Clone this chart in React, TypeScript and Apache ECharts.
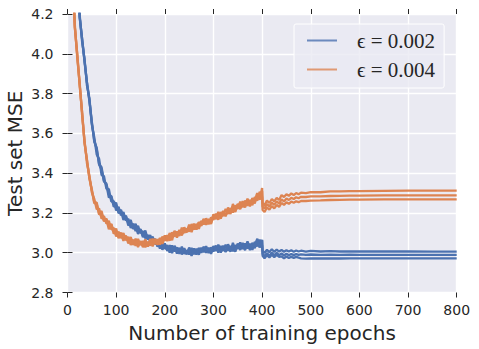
import React, { useEffect, useRef } from "react";
import * as echarts from "echarts";

const epochs = [
  10, 15, 20, 25, 30, 35, 40, 45, 50, 55,
  60, 65, 70, 75, 80, 85, 90, 95, 100, 105,
  110, 115, 120, 125, 130, 135, 140, 145, 150, 155,
  160, 165, 170, 175, 180, 185, 190, 195, 200, 205,
  210, 215, 220, 225, 230, 235, 240, 245, 250, 255,
  260, 265, 270, 275, 280, 285, 290, 295, 300, 305,
  310, 315, 320, 325, 330, 335, 340, 345, 350, 355,
  360, 365, 370, 375, 380, 385, 390, 395, 400,
  401, 405, 410, 415, 420, 425, 430, 435, 440, 445,
  450, 455, 460, 465, 470, 475, 480, 490, 500, 520,
  540, 560, 580, 600, 650, 700, 750, 800,
];

const blueRun1 = [
  5.110, 4.742, 4.462, 4.185, 4.078, 3.960, 3.856, 3.766, 3.659, 3.558,
  3.528, 3.445, 3.430, 3.360, 3.342, 3.278, 3.285, 3.242, 3.251, 3.198,
  3.210, 3.165, 3.186, 3.149, 3.164, 3.121, 3.133, 3.094, 3.118, 3.086,
  3.112, 3.068, 3.077, 3.042, 3.070, 3.030, 3.051, 3.030, 3.047, 3.009,
  3.029, 2.998, 3.035, 3.005, 3.024, 2.992, 3.011, 2.992, 3.026, 2.997,
  3.021, 2.991, 3.022, 3.003, 3.028, 3.000, 3.025, 2.994, 3.029, 3.009,
  3.040, 3.011, 3.035, 3.003, 3.033, 3.005, 3.050, 3.013, 3.043, 3.014,
  3.049, 3.020, 3.057, 3.021, 3.046, 3.022, 3.070, 3.028, 3.065,
  3.012, 2.998, 3.015, 3.002, 3.018, 3.004, 3.016, 3.006, 3.014, 3.005,
  3.013, 3.006, 3.012, 3.005, 3.011, 3.006, 3.010, 3.006, 3.009, 3.006,
  3.008, 3.006, 3.007, 3.006, 3.006, 3.006, 3.005, 3.005,
];

const blueRun2 = [
  5.094, 4.759, 4.439, 4.197, 4.061, 3.975, 3.840, 3.778, 3.644, 3.581,
  3.494, 3.472, 3.391, 3.384, 3.321, 3.320, 3.257, 3.260, 3.212, 3.231,
  3.188, 3.204, 3.162, 3.170, 3.124, 3.146, 3.109, 3.135, 3.098, 3.109,
  3.072, 3.090, 3.055, 3.081, 3.043, 3.058, 3.021, 3.051, 3.020, 3.038,
  3.000, 3.037, 3.006, 3.027, 2.994, 3.031, 2.994, 3.012, 2.991, 3.024,
  2.992, 3.020, 2.990, 3.025, 3.002, 3.033, 2.998, 3.027, 3.006, 3.036,
  3.001, 3.034, 3.009, 3.040, 3.010, 3.034, 3.007, 3.038, 3.020, 3.052,
  3.018, 3.047, 3.021, 3.045, 3.014, 3.055, 3.032, 3.066, 3.035,
  2.995, 2.982, 2.998, 2.985, 3.000, 2.987, 2.999, 2.988, 2.996, 2.986,
  2.995, 2.987, 2.994, 2.988, 2.993, 2.989, 2.992, 2.989, 2.991, 2.989,
  2.990, 2.989, 2.990, 2.989, 2.989, 2.989, 2.989, 2.989,
];

const blueRun3 = [
  5.104, 4.747, 4.456, 4.182, 4.075, 3.966, 3.857, 3.764, 3.653, 3.565,
  3.521, 3.442, 3.418, 3.358, 3.347, 3.293, 3.283, 3.231, 3.239, 3.204,
  3.216, 3.177, 3.183, 3.137, 3.151, 3.120, 3.145, 3.105, 3.117, 3.078,
  3.098, 3.066, 3.089, 3.051, 3.066, 3.034, 3.054, 3.015, 3.037, 3.013,
  3.038, 3.014, 3.030, 2.996, 3.020, 2.997, 3.022, 2.997, 3.017, 2.984,
  3.014, 2.994, 3.024, 3.000, 3.030, 3.003, 3.022, 3.000, 3.033, 3.014,
  3.033, 3.001, 3.030, 3.006, 3.042, 3.016, 3.037, 3.005, 3.046, 3.019,
  3.038, 3.013, 3.048, 3.013, 3.050, 3.030, 3.068, 3.026, 3.063,
  2.985, 2.972, 2.988, 2.976, 2.990, 2.978, 2.989, 2.979, 2.982, 2.972,
  2.981, 2.973, 2.980, 2.974, 2.979, 2.975, 2.972, 2.970, 2.972, 2.971,
  2.972, 2.971, 2.972, 2.972, 2.972, 2.972, 2.972, 2.972,
];

const orangeRun1 = [
  4.454, 4.137, 3.996, 3.842, 3.705, 3.556, 3.467, 3.374, 3.313, 3.255,
  3.246, 3.192, 3.198, 3.158, 3.172, 3.133, 3.143, 3.096, 3.109, 3.079,
  3.101, 3.072, 3.083, 3.047, 3.066, 3.040, 3.070, 3.040, 3.057, 3.028,
  3.053, 3.031, 3.069, 3.041, 3.066, 3.044, 3.074, 3.045, 3.077, 3.063,
  3.098, 3.079, 3.105, 3.076, 3.110, 3.092, 3.127, 3.107, 3.132, 3.104,
  3.139, 3.119, 3.154, 3.135, 3.170, 3.143, 3.167, 3.150, 3.193, 3.174,
  3.198, 3.171, 3.205, 3.186, 3.227, 3.206, 3.232, 3.205, 3.246, 3.224,
  3.248, 3.228, 3.263, 3.233, 3.275, 3.255, 3.298, 3.266, 3.325,
  3.250, 3.238, 3.262, 3.250, 3.270, 3.258, 3.276, 3.265, 3.290, 3.280,
  3.294, 3.286, 3.298, 3.290, 3.300, 3.294, 3.302, 3.300, 3.305, 3.304,
  3.308, 3.308, 3.310, 3.310, 3.311, 3.312, 3.312, 3.312,
];

const orangeRun2 = [
  4.460, 4.132, 4.002, 3.845, 3.708, 3.550, 3.466, 3.376, 3.319, 3.248,
  3.253, 3.195, 3.210, 3.160, 3.167, 3.118, 3.145, 3.107, 3.121, 3.073,
  3.095, 3.060, 3.086, 3.059, 3.079, 3.041, 3.058, 3.029, 3.058, 3.036,
  3.067, 3.033, 3.057, 3.032, 3.070, 3.040, 3.071, 3.060, 3.087, 3.059,
  3.089, 3.063, 3.110, 3.085, 3.114, 3.087, 3.116, 3.102, 3.141, 3.117,
  3.146, 3.116, 3.152, 3.138, 3.168, 3.140, 3.170, 3.144, 3.189, 3.169,
  3.205, 3.181, 3.210, 3.183, 3.218, 3.195, 3.245, 3.213, 3.243, 3.219,
  3.259, 3.235, 3.272, 3.241, 3.271, 3.247, 3.300, 3.268, 3.310,
  3.232, 3.222, 3.245, 3.233, 3.252, 3.240, 3.258, 3.247, 3.268, 3.258,
  3.272, 3.265, 3.276, 3.270, 3.279, 3.274, 3.281, 3.280, 3.283, 3.283,
  3.285, 3.286, 3.287, 3.287, 3.288, 3.288, 3.288, 3.288,
];

const orangeRun3 = [
  4.444, 4.149, 3.979, 3.857, 3.691, 3.565, 3.450, 3.388, 3.304, 3.271,
  3.219, 3.222, 3.171, 3.184, 3.146, 3.160, 3.117, 3.125, 3.082, 3.106,
  3.073, 3.099, 3.062, 3.080, 3.039, 3.066, 3.034, 3.070, 3.038, 3.059,
  3.027, 3.055, 3.035, 3.071, 3.043, 3.068, 3.041, 3.081, 3.060, 3.088,
  3.060, 3.102, 3.081, 3.107, 3.084, 3.126, 3.099, 3.122, 3.106, 3.144,
  3.117, 3.145, 3.120, 3.160, 3.142, 3.173, 3.143, 3.177, 3.166, 3.196,
  3.166, 3.204, 3.184, 3.220, 3.195, 3.224, 3.202, 3.238, 3.220, 3.257,
  3.228, 3.262, 3.236, 3.265, 3.239, 3.280, 3.262, 3.306, 3.280,
  3.215, 3.205, 3.228, 3.216, 3.235, 3.223, 3.240, 3.230, 3.250, 3.240,
  3.254, 3.246, 3.257, 3.251, 3.259, 3.254, 3.260, 3.260, 3.262, 3.263,
  3.265, 3.266, 3.267, 3.267, 3.268, 3.268, 3.268, 3.268,
];

const legendLabels = ["ϵ = 0.002", "ϵ = 0.004"];
const xAxisTitle = "Number of training epochs";
const yAxisTitle = "Test set MSE";
const xMin = 0;
const xMax = 800;
const xStep = 100;
const yMin = 2.8;
const yMax = 4.2;
const yStep = 0.2;

const BLUE = "#4C72B0";
const ORANGE = "#DD8452";
const TEXT = "#262626";
const FONT = "DejaVu Sans";

export default function App() {
  const ref = useRef<HTMLDivElement>(null);

  useEffect(() => {
    if (!ref.current) return;
    const chart = echarts.init(ref.current, null, { renderer: "svg" });
    const toPairs = (run: number[]) => epochs.map((e, i) => [e, run[i]]);
    const groups = [
      { name: legendLabels[0], color: BLUE, runs: [blueRun1, blueRun2, blueRun3] },
      { name: legendLabels[1], color: ORANGE, runs: [orangeRun1, orangeRun2, orangeRun3] },
    ];
    const series: any[] = [];
    groups.forEach((g) => {
      g.runs.forEach((r) => {
        series.push({
          type: "line",
          name: g.name,
          data: toPairs(r),
          symbol: "none",
          showSymbol: false,
          clip: true,
          color: g.color,
          lineStyle: { color: g.color, width: 2.3 },
          xAxisIndex: 0,
          yAxisIndex: 0,
        });
      });
    });

    const tick = { show: true, length: 5, lineStyle: { color: TEXT, width: 1 } };

    chart.setOption({
      animation: false,
      backgroundColor: "#ffffff",
      grid: {
        left: 67.5,
        right: 22.3,
        top: 14,
        bottom: 56.5,
        show: true,
        backgroundColor: "#EAEAF2",
        borderWidth: 0,
        containLabel: false,
        outerBoundsMode: "none",
      },
      legend: {
        data: [
          { name: legendLabels[0], icon: "rect", itemStyle: { color: BLUE, opacity: 0.8 } },
          { name: legendLabels[1], icon: "rect", itemStyle: { color: ORANGE, opacity: 0.8 } },
        ],
        orient: "vertical",
        left: 294,
        top: 24,
        backgroundColor: "rgba(234,234,242,0.8)",
        borderColor: "#ffffff",
        borderWidth: 1,
        borderRadius: 2,
        padding: [6, 9, 8, 13],
        itemWidth: 30,
        itemHeight: 2,
        itemGap: 8,
        textStyle: {
          fontFamily: "Liberation Serif",
          fontSize: 21,
          color: TEXT,
          padding: [0, 0, 0, 15],
        },
      },
      xAxis: [
        {
          type: "value",
          min: xMin,
          max: xMax,
          interval: xStep,
          position: "bottom",
          axisLine: { show: false },
          axisTick: tick,
          splitLine: { show: true, lineStyle: { color: "#ffffff", width: 1.4 } },
          axisLabel: { color: TEXT, fontFamily: FONT, fontSize: 14, margin: 10 },
          name: xAxisTitle,
          nameLocation: "middle",
          nameGap: 30,
          nameMoveOverlap: false,
          nameTextStyle: { color: TEXT, fontFamily: FONT, fontSize: 20 },
        },
        {
          type: "value",
          min: xMin,
          max: xMax,
          interval: xStep,
          position: "top",
          axisLine: { show: false },
          axisTick: tick,
          splitLine: { show: false },
          axisLabel: { show: false },
        },
      ],
      yAxis: [
        {
          type: "value",
          min: yMin,
          max: yMax,
          interval: yStep,
          position: "left",
          axisLine: { show: false },
          axisTick: tick,
          splitLine: { show: true, lineStyle: { color: "#ffffff", width: 1.4 } },
          axisLabel: {
            color: TEXT,
            fontFamily: FONT,
            fontSize: 14,
            margin: 14,
            formatter: (v: number) => v.toFixed(1),
          },
          name: yAxisTitle,
          nameLocation: "middle",
          nameGap: 43,
          nameMoveOverlap: false,
          nameTextStyle: { color: TEXT, fontFamily: FONT, fontSize: 20 },
        },
        {
          type: "value",
          min: yMin,
          max: yMax,
          interval: yStep,
          position: "right",
          axisLine: { show: false },
          axisTick: tick,
          splitLine: { show: false },
          axisLabel: { show: false },
        },
      ],
      series,
    });
    return () => chart.dispose();
  }, []);

  return (
    <div
      ref={ref}
      style={{ width: 479, height: 349, position: "absolute", left: 0, top: 0 }}
    />
  );
}
